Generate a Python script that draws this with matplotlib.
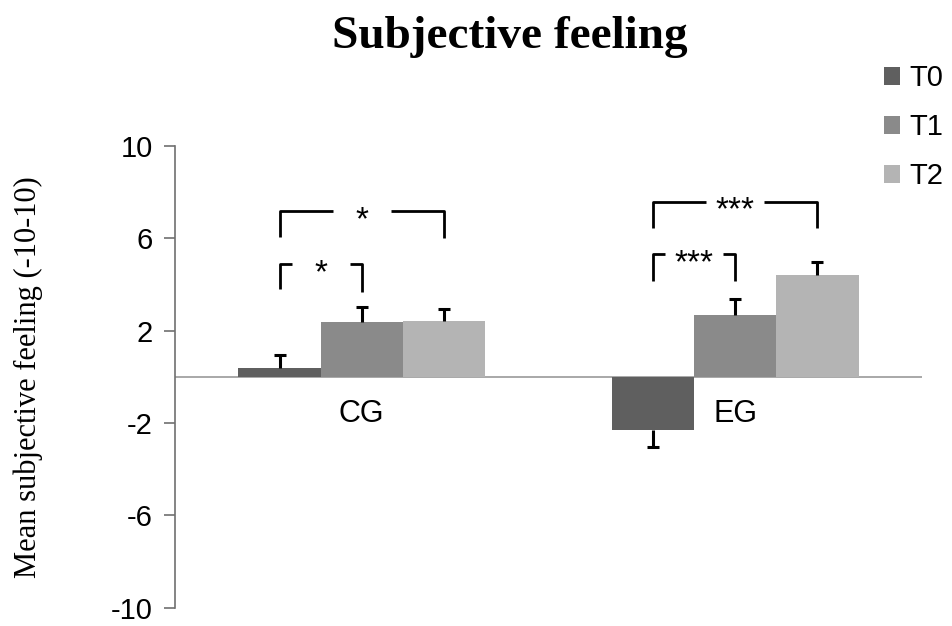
import numpy as np
import matplotlib
matplotlib.use("Agg")
import matplotlib.pyplot as plt

groups = ["CG", "EG"]
times = ["T0", "T1", "T2"]
means_cg = [0.38, 2.38, 2.40]
means_eg = [-2.30, 2.68, 4.41]
err_cg = [0.57, 0.65, 0.55]
err_eg = [0.75, 0.67, 0.54]
colors = ["#5f5f5f", "#8a8a8a", "#b4b4b4"]

# brackets: group index, first bar, second bar, top, left leg end, right leg end, label
brackets = [
    (0, 0, 2, 7.17, 6.05, 6.00, "*"),
    (0, 0, 1, 4.88, 3.80, 3.66, "*"),
    (1, 0, 2, 7.58, 6.44, 6.44, "***"),
    (1, 0, 1, 5.31, 4.13, 4.13, "***"),
]

width = 0.22
x = np.arange(len(groups))
means = [means_cg, means_eg]
errs = [err_cg, err_eg]

fig = plt.figure(figsize=(9.52, 6.26), dpi=100)
ax = fig.add_axes([0.1838, 0.029, 0.7847, 0.7383])

cap = 0.016
for k, t in enumerate(times):
    vals = np.array([m[k] for m in means])
    e = np.array([er[k] for er in errs])
    pos = x + (k - 1) * width
    ax.bar(pos, vals, width, color=colors[k], label=t, zorder=2)
    # one-sided error bars, away from zero
    tips = vals + np.sign(vals) * e
    ax.vlines(pos, vals, tips, color="black", lw=2.2, zorder=3)
    ax.hlines(tips, pos - cap, pos + cap, color="black", lw=2.2, zorder=3)

ax.axhline(0, color="#9a9a9a", lw=1.2, zorder=1)

for g, i, j, top, yl, yr, lab in brackets:
    x1 = x[g] + (i - 1) * width
    x2 = x[g] + (j - 1) * width
    mid = (x1 + x2) / 2
    gap = 0.078
    kw = dict(color="black", lw=2.0, solid_capstyle="butt")
    ax.plot([x1, x1, mid - gap], [yl, top, top], **kw)
    ax.plot([mid + gap, x2, x2], [top, top, yr], **kw)
    ax.annotate(lab, (mid, top), xytext=(0, -13), textcoords="offset points",
                ha="center", va="baseline", fontsize=24, family="Liberation Sans")

for g, name in enumerate(groups):
    ax.text(x[g], -1.6, name, ha="center", va="center", fontsize=22,
            family="Liberation Sans")

ax.set_xlim(-0.5, 1.5)
ax.set_ylim(-10, 10)
ax.set_yticks([10, 6, 2, -2, -6, -10])
ax.set_yticklabels(["10", "6", "2", "-2", "-6", "-10"], family="Liberation Sans", fontsize=21)
ax.set_xticks([])
ax.tick_params(axis="y", direction="out", length=8, width=1.2, color="#707070", pad=8)
for s in ["top", "right", "bottom"]:
    ax.spines[s].set_visible(False)
ax.spines["left"].set_color("#707070")
ax.spines["left"].set_linewidth(1.2)

ax.set_ylabel("Mean subjective feeling (-10-10)", family="Liberation Serif", fontsize=22)
ax.yaxis.set_label_coords(-0.176, 0.5)

fig.text(0.536, 0.941, "Subjective feeling", ha="center", va="center",
         family="Liberation Serif", fontweight="bold", fontsize=34)

fig.legend(loc="upper left", bbox_to_anchor=(0.929, 0.897), frameon=False,
           prop={"family": "Liberation Sans", "size": 21},
           handlelength=0.55, handleheight=0.55, handletextpad=0.3,
           labelspacing=0.72, borderaxespad=0, borderpad=0)

fig.savefig("out.png", dpi=100)
